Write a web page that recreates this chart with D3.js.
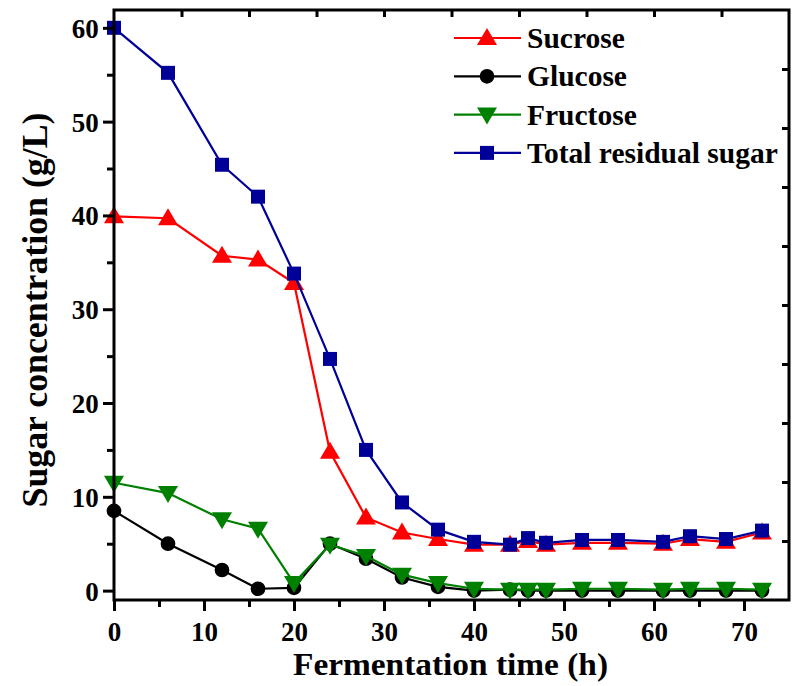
<!DOCTYPE html>
<html><head><meta charset="utf-8">
<script src="https://cdn.jsdelivr.net/npm/d3@7"></script>
<style>body{margin:0;background:#fff}svg{display:block}</style>
</head><body>
<script>
const time =     [0, 6, 12, 16, 20, 24, 28, 32, 36, 40, 44, 46, 48, 52, 56, 61, 64, 68, 72];
const sucrose =  [39.9, 39.7, 35.7, 35.3, 32.8, 14.8, 7.8, 6.2, 5.5, 4.9, 4.9, 5.3, 4.9, 5.1, 5.1, 5.0, 5.5, 5.2, 6.2];
const glucose =  [8.5, 5.0, 2.2, 0.2, 0.3, 5.0, 3.4, 1.4, 0.4, 0.0, 0.1, 0.0, 0.0, 0.0, 0.0, 0.0, 0.0, 0.0, 0.0];
const fructose = [11.5, 10.4, 7.6, 6.6, 0.8, 4.9, 3.7, 1.7, 0.8, 0.2, 0.1, 0.1, 0.1, 0.2, 0.2, 0.1, 0.2, 0.2, 0.1];
const total =    [60.0, 55.2, 45.4, 42.0, 33.8, 24.7, 15.0, 9.4, 6.5, 5.2, 4.9, 5.6, 5.1, 5.4, 5.4, 5.2, 5.8, 5.5, 6.4];
const xTicks = [0, 10, 20, 30, 40, 50, 60, 70];
const yTicks = [0, 10, 20, 30, 40, 50, 60];
const seriesNames = ["Sucrose", "Glucose", "Fructose", "Total residual sugar"];
const seriesColors = ["#ff0000", "#000000", "#008000", "#000099"];
const seriesShapes = ["triUp", "circle", "triDown", "square"];
const seriesValues = [sucrose, glucose, fructose, total];

const W = 794, H = 686;
const L = 114, R = 789, T = 10, B = 600;
const svg = d3.select("body").append("svg").attr("width", W).attr("height", H);
const x = d3.scaleLinear().domain([0, 75]).range([L, R]);
const y = d3.scaleLinear().domain([-1, 61.9]).range([B, T]);
const font = "'Liberation Serif','Times New Roman',serif";

function symbolPath(shape) {
  if (shape === "triUp") return "M0,-10L10,7L-10,7Z";
  if (shape === "triDown") return "M0,10L10,-7L-10,-7Z";
  if (shape === "square") return "M-7,-7H7V7H-7Z";
  return d3.symbol(d3.symbolCircle, 170)();
}

// series
seriesValues.forEach((vals, i) => {
  const pts = time.map((t, j) => [t, vals[j]]);
  const g = svg.append("g");
  g.append("path").datum(pts)
    .attr("d", d3.line().x(d => x(d[0])).y(d => y(d[1])))
    .attr("fill", "none").attr("stroke", seriesColors[i]).attr("stroke-width", 2.2);
  g.selectAll("path.m").data(pts).enter().append("path").attr("class", "m")
    .attr("d", symbolPath(seriesShapes[i]))
    .attr("transform", d => `translate(${x(d[0])},${y(d[1])})`)
    .attr("fill", seriesColors[i]);
});

// axes
const axG = svg.append("g");
const bottom = axG.append("g").attr("transform", `translate(0,${B})`)
  .call(d3.axisBottom(x).tickValues(xTicks).tickSize(11).tickFormat(d3.format("d")));
axG.append("g").attr("transform", `translate(0,${B})`)
  .call(d3.axisBottom(x).tickValues(d3.range(5, 75, 10)).tickSize(7).tickFormat(""));
const left = axG.append("g").attr("transform", `translate(${L},0)`)
  .call(d3.axisLeft(y).tickValues(yTicks).tickSize(11).tickFormat(d3.format("d")));
axG.append("g").attr("transform", `translate(${L},0)`)
  .call(d3.axisLeft(y).tickValues(d3.range(5, 60, 10)).tickSize(7).tickFormat(""));
// top & right axes (inward ticks)
axG.append("g").attr("transform", `translate(0,${T})`)
  .call(d3.axisBottom(x).tickValues(d3.range(7.5, 75, 7.5)).tickSize(7).tickFormat(""));
const yR = d3.scaleLinear().domain([0, 10]).range([B, T]);
axG.append("g").attr("transform", `translate(${R},0)`)
  .call(d3.axisLeft(yR).tickValues(d3.range(1, 10)).tickSize(7).tickFormat(""));
axG.selectAll(".domain").remove();
axG.selectAll("line").attr("stroke", "#000").attr("stroke-width", 3);
axG.append("rect").attr("x", L).attr("y", T).attr("width", R - L).attr("height", B - T)
  .attr("fill", "none").attr("stroke", "#000").attr("stroke-width", 3);
axG.selectAll("text").attr("font-family", font).attr("font-weight", "bold")
  .attr("font-size", 27).attr("fill", "#000");
bottom.selectAll("text").attr("dy", "1.0em");
left.selectAll("text").attr("dx", "-0.05em").attr("dy", "0.35em");

// axis titles
svg.append("text").attr("x", 450.5).attr("y", 675).attr("text-anchor", "middle")
  .attr("font-family", font).attr("font-weight", "bold").attr("font-size", 32)
  .attr("textLength", 315).attr("lengthAdjust", "spacingAndGlyphs")
  .text("Fermentation time (h)");
svg.append("text").attr("transform", `translate(47,310) rotate(-90)`)
  .attr("text-anchor", "middle")
  .attr("font-family", font).attr("font-weight", "bold").attr("font-size", 36)
  .attr("textLength", 395).attr("lengthAdjust", "spacingAndGlyphs")
  .text("Sugar concentration (g/L)");

// legend
const leg = svg.append("g");
seriesNames.forEach((name, i) => {
  const ly = 38 + i * 38.3;
  leg.append("line").attr("x1", 454).attr("x2", 521).attr("y1", ly).attr("y2", ly)
    .attr("stroke", seriesColors[i]).attr("stroke-width", 2.2);
  leg.append("path").attr("d", symbolPath(seriesShapes[i]))
    .attr("transform", `translate(487,${ly})`).attr("fill", seriesColors[i]);
  leg.append("text").attr("x", 527).attr("y", ly + 10)
    .attr("font-family", font).attr("font-weight", "bold").attr("font-size", 29.5)
    .text(name);
});
</script>
</body></html>
